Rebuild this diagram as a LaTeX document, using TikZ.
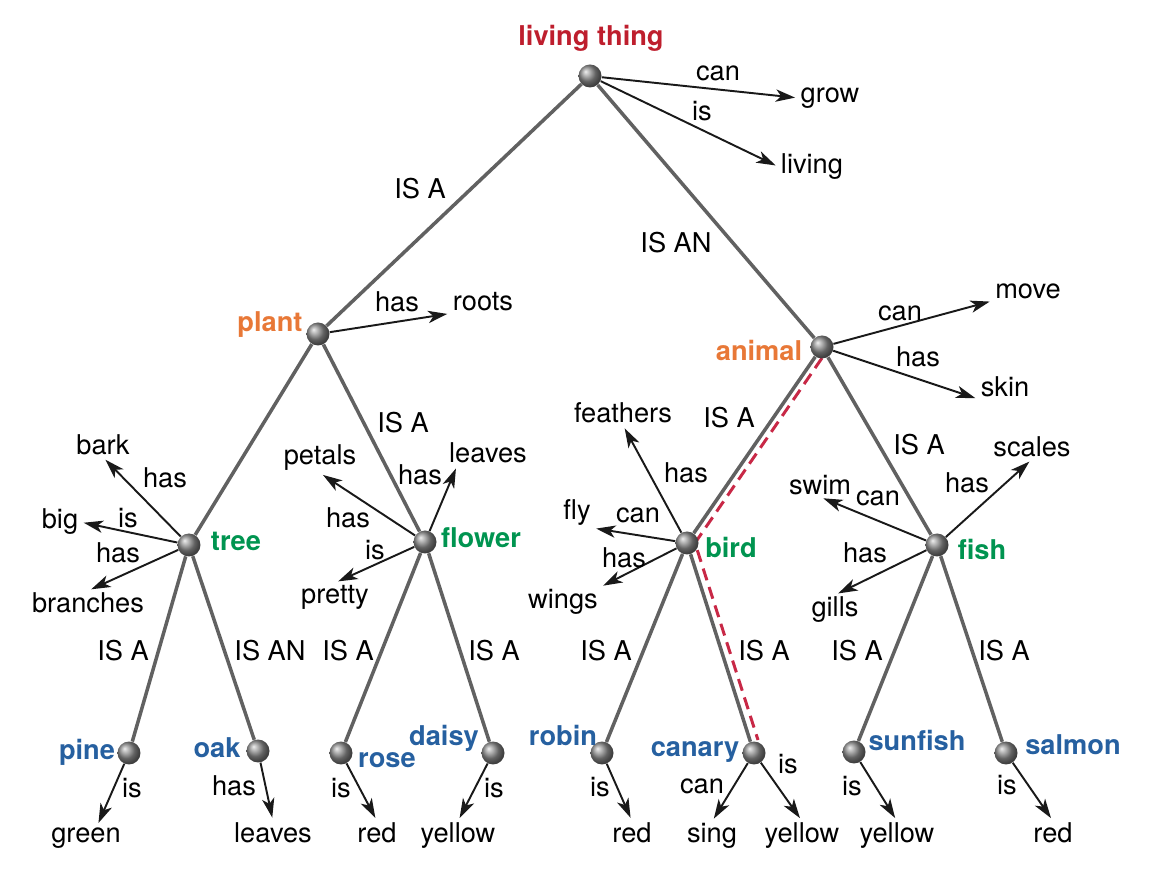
\documentclass[tikz,border=0pt]{standalone}
\usepackage{fontspec}
\setmainfont{TeX Gyre Heros}
\usepackage{xcolor}
\usetikzlibrary{arrows.meta, calc, backgrounds}
\definecolor{topred}{RGB}{190,30,45}
\definecolor{kingdom}{RGB}{232,120,55}
\definecolor{group}{RGB}{0,148,80}
\definecolor{kind}{RGB}{38,96,160}
\definecolor{trail}{RGB}{200,40,70}
\tikzset{
    >={Stealth[length=11pt, width=7pt, inset=3pt]}, % arrow heads of the property links
    ball/.style={circle, minimum size=0.46cm, inner sep=0pt, shading=ball, ball color=black!45}, % the concept spheres
    isa/.style={draw=black!62, line width=2pt}, % class links
    prop/.style={draw=black!90, line width=1.1pt, ->, shorten >=2pt}, % property links
    route/.style={draw=trail, line width=1.7pt, dash pattern=on 7pt off 4pt},
    word/.style={font=\fontsize{15.5}{18}\selectfont, inner sep=1pt},
    low/.style={word, anchor=base}, % words of the bottom row
    lbl/.style={word},
    cls/.style={word, font=\fontsize{15.5}{18}\selectfont\bfseries},
}

\begin{document}
\begin{tikzpicture}[x=0.02cm, y=-0.02cm]
        \useasboundingbox (0,0) rectangle (1150,884);

        % Spheres
        \node[ball] (living) at (590,76) {};
        \node[ball] (plant) at (318,334) {};
        \node[ball] (animal) at (822,347) {};
        \node[ball] (tree) at (189,545) {};
        \node[ball] (flower) at (425,542) {};
        \node[ball] (bird) at (687,543) {};
        \node[ball] (fish) at (937,545) {};
        \node[ball] (pine) at (129,753) {};
        \node[ball] (oak) at (258,751) {};
        \node[ball] (rose) at (341,753) {};
        \node[ball] (daisy) at (493,753) {};
        \node[ball] (robin) at (602,753) {};
        \node[ball] (canary) at (754,753) {};
        \node[ball] (sunfish) at (854,752) {};
        \node[ball] (salmon) at (1006,753) {};

        % Names of the concepts
        \node[cls, text=topred] (tliving) at (591,38) {living thing};
        \node[cls, text=kingdom] (tplant) at (270,325) {plant};
        \node[cls, text=kingdom] (tanimal) at (759,350) {animal};
        \node[cls, text=group] (ttree) at (236,541) {tree};
        \node[cls, text=group] (tflower) at (481,538) {flower};
        \node[cls, text=group] (tbird) at (731,547) {bird};
        \node[cls, text=group] (tfish) at (982,549) {fish};
        \node[cls, text=kind] (tpine) at (87,752) {pine};
        \node[cls, text=kind] (toak) at (217,748) {oak};
        \node[cls, text=kind] (trose) at (387,760) {rose};
        \node[cls, text=kind] (tdaisy) at (444,738) {daisy};
        \node[cls, text=kind] (trobin) at (563,735) {robin};
        \node[cls, text=kind] (tcanary) at (695,752) {canary};
        \node[cls, text=kind] (tsunfish) at (917,740) {sunfish};
        \node[cls, text=kind] (tsalmon) at (1073,745) {salmon};

        % Properties
        \node[word] (grow) at (830,98) {grow};
        \node[word] (alive) at (812,167) {living};
        \node[word] (roots) at (483,302) {roots};
        \node[word] (move) at (1028,291) {move};
        \node[word] (skin) at (1005,387) {skin};
        \node[word] (bark) at (103,445) {bark};
        \node[word] (big) at (60,522) {big};
        \node[word] (branches) at (88,603) {branches};
        \node[word] (petals) at (320,458) {petals};
        \node[word] (fleaves) at (488,453) {leaves};
        \node[word] (pretty) at (335,597) {pretty};
        \node[word] (feathers) at (623,413) {feathers};
        \node[word] (fly) at (577,513) {fly};
        \node[word] (wings) at (563,602) {wings};
        \node[word] (scales) at (1032,447) {scales};
        \node[word] (swim) at (820,485) {swim};
        \node[word] (gills) at (835,610) {gills};
        \node[low] (green) at (86,843) {green};
        \node[low] (oleaves) at (273,843) {leaves};
        \node[low] (rred) at (377,843) {red};
        \node[low] (dyellow) at (458,843) {yellow};
        \node[low] (bred) at (632,843) {red};
        \node[low] (sing) at (712,843) {sing};
        \node[low] (cyellow) at (802,843) {yellow};
        \node[low] (syellow) at (897,843) {yellow};
        \node[low] (sred) at (1053,843) {red};

        % IS A links
        \path[isa] (living) -- (plant) (living) -- (animal)
            (plant) -- (tree) (plant) -- (flower)
            (animal) -- (bird) (animal) -- (fish)
            (tree) -- (pine) (tree) -- (oak)
            (flower) -- (rose) (flower) -- (daisy)
            (bird) -- (robin) (bird) -- (canary)
            (fish) -- (sunfish) (fish) -- (salmon);
        \node[lbl] (l1) at (420,189) {IS A};
        \node[lbl] (l2) at (676,243) {IS AN};
        \node[lbl] (l3) at (403,423) {IS A};
        \node[lbl] (l4) at (729,418) {IS A};
        \node[lbl] (l5) at (919,445) {IS A};
        \node[lbl] (l6) at (123,651) {IS A};
        \node[lbl] (l7) at (270,651) {IS AN};
        \node[lbl] (l8) at (348,651) {IS A};
        \node[lbl] (l9) at (494,651) {IS A};
        \node[lbl] (l10) at (606,651) {IS A};
        \node[lbl] (l11) at (764,651) {IS A};
        \node[lbl] (l12) at (857,651) {IS A};
        \node[lbl] (l13) at (1004,651) {IS A};

        % Property links
        \path[prop] (living) -- (grow.west);
        \path[prop] (living) -- (alive.west);
        \path[prop] (plant) -- (roots.south west);
        \path[prop] (animal) -- (move.south west);
        \path[prop] (animal) -- (skin.south west);
        \path[prop] (tree) -- (bark.south);
        \path[prop] (tree) -- (big.east);
        \path[prop] (tree) -- (branches.north);
        \path[prop] (flower) -- (petals.south);
        \path[prop] (flower) -- ($(fleaves.south west)!.25!(fleaves.south)$);
        \path[prop] (flower) -- (pretty.north);
        \path[prop] (bird) -- (feathers.south);
        \path[prop] (bird) -- (fly.south east);
        \path[prop] (bird) -- (wings.north east);
        \path[prop] (fish) -- (scales.south);
        \path[prop] (fish) -- (swim.south);
        \path[prop] (fish) -- (gills.north);
        \path[prop] (pine) -- ($(green.north)!.3!(green.north east)$);
        \path[prop] (oak) -- (oleaves.north);
        \path[prop] (rose) -- (rred.north);
        \path[prop] (daisy) -- (dyellow.north);
        \path[prop] (robin) -- (bred.north);
        \path[prop] (canary) -- (sing.north);
        \path[prop] (canary) -- (cyellow.north);
        \path[prop] (sunfish) -- (syellow.north);
        \path[prop] (salmon) -- (sred.north);

        \node[lbl] (p1) at (718,73) {can};
        \node[lbl] (p2) at (702,111) {is};
        \node[lbl] (p3) at (397,302) {has};
        \node[lbl] (p4) at (900,313) {can};
        \node[lbl] (p5) at (918,357) {has};
        \node[lbl] (p6) at (165,478) {has};
        \node[lbl] (p7) at (128,518) {is};
        \node[lbl] (p8) at (118,553) {has};
        \node[lbl] (p9) at (348,518) {has};
        \node[lbl] (p10) at (420,475) {has};
        \node[lbl] (p11) at (375,550) {is};
        \node[lbl] (p12) at (686,473) {has};
        \node[lbl] (p13) at (638,515) {can};
        \node[lbl] (p14) at (624,558) {has};
        \node[lbl] (p15) at (967,483) {has};
        \node[lbl] (p16) at (878,498) {can};
        \node[lbl] (p17) at (865,553) {has};
        \node[lbl] (p18) at (132,788) {is};
        \node[lbl] (p19) at (234,786) {has};
        \node[lbl] (p20) at (341,788) {is};
        \node[lbl] (p21) at (494,788) {is};
        \node[lbl] (p22) at (600,787) {is};
        \node[lbl] (p23) at (702,786) {can};
        \node[lbl] (p24) at (788,764) {is};
        \node[lbl] (p25) at (852,786) {is};
        \node[lbl] (p26) at (1007,785) {is};

        % Search path
        \begin{pgfonlayer}{background}
            \draw[route] ($(animal)+(0,11)$) -- ($(bird)+(8,0)$) -- ($(canary)+(4,-13)$);
        \end{pgfonlayer}
\end{tikzpicture}
\end{document}
